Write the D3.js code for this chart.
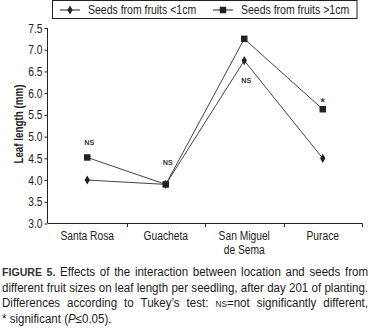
<!DOCTYPE html>
<html><head><meta charset="utf-8">
<script src="https://cdn.jsdelivr.net/npm/d3@7"></script>
<style>
html,body{margin:0;padding:0;background:#fff;}
body{width:371px;height:329px;overflow:hidden;position:relative;font-family:"Liberation Sans",Arial,sans-serif;}
#cap{position:absolute;left:2px;top:265px;font-size:12.5px;line-height:15.5px;color:#1a1a1a;transform-origin:0 0;}
#cap div{text-align:justify;text-align-last:justify;white-space:nowrap;}
#cap div.last{text-align-last:left;}
.sc{font-variant:small-caps;text-transform:lowercase;}
</style></head><body>
<svg id="chart" width="371" height="262" style="position:absolute;left:0;top:0"></svg>
<div id="cap"></div>
<script>
const categories = ["Santa Rosa", "Guacheta", "San Miguel\nde Sema", "Purace"];
const smallFruit = [4.0, 3.9, 6.75, 4.5];
const largeFruit = [4.52, 3.9, 7.25, 5.63];
const seriesNames = ["Seeds from fruits <1cm", "Seeds from fruits >1cm"];
const yTicks = [3.0, 3.5, 4.0, 4.5, 5.0, 5.5, 6.0, 6.5, 7.0, 7.5];
const annotLabels = ["NS", "NS", "NS", "*"];
const annotValues = [4.88, 4.42, 6.3, 5.86];

const svg = d3.select("#chart");
const font = '"Liberation Sans",Arial,sans-serif';
const ink = "#222";
const SX = 0.82; // horizontal condensing to mimic a narrow face

const x = d3.scaleBand().domain(categories).range([48, 362]);
const y = d3.scaleLinear().domain([3, 7.5]).range([223.5, 28]);
const cx = c => x(c) + x.bandwidth() / 2;

function narrowText(parent, px, py, str, opts) {
  const g = parent.append("g").attr("transform", `translate(${px},${py})`);
  const t = g.append("text").attr("transform", `scale(${opts.sx || SX},1)`)
    .attr("text-anchor", opts.anchor || "start")
    .attr("font-family", font).attr("font-size", opts.size || 12)
    .attr("font-weight", opts.weight || "normal")
    .attr("fill", opts.fill || ink);
  if (opts.dy) t.attr("dy", opts.dy);
  t.text(str);
  return g;
}

// x axis
const xAxis = svg.append("g").attr("transform", "translate(0,223.5)")
  .call(d3.axisBottom(x).tickSize(0).tickFormat(""));
xAxis.select(".domain").attr("stroke", ink).attr("d", "M48,0H362.5");
const bounds = categories.map(c => x(c) + x.bandwidth());
svg.append("g").selectAll("line").data(bounds).join("line")
  .attr("x1", d => Math.round(d) + 0.5).attr("x2", d => Math.round(d) + 0.5).attr("y1", 223.5).attr("y2", 227)
  .attr("stroke", ink);
categories.forEach(c => {
  c.split("\n").forEach((p, i) => {
    narrowText(svg, cx(c), 240 + i * 13.5, p, { anchor: "middle", size: 12.5 });
  });
});

// y axis
const yAxis = svg.append("g").attr("transform", "translate(47.5,0)")
  .call(d3.axisLeft(y).tickValues(yTicks).tickFormat(d3.format(".1f")).tickSize(3).tickPadding(3));
yAxis.select(".domain").attr("stroke", ink).attr("d", "M0,223.5V28");
yAxis.selectAll(".tick line").attr("stroke", ink);
yAxis.selectAll(".tick text").attr("font-family", font).attr("font-size", 12.5).attr("fill", ink)
  .attr("transform", `scale(${SX},1)`);

narrowText(svg.append("g").attr("transform", "translate(23,124) rotate(-90)"), 0, 0, "Leaf length (mm)",
  { anchor: "middle", size: 12, weight: "bold" });

// lines
const line = d3.line().x((d, i) => cx(categories[i])).y(d => y(d));
const lineColor = "#444";
svg.append("path").datum(smallFruit).attr("d", line).attr("fill", "none").attr("stroke", lineColor).attr("stroke-width", 1);
svg.append("path").datum(largeFruit).attr("d", line).attr("fill", "none").attr("stroke", lineColor).attr("stroke-width", 1);

const diamond = d3.symbol().type(d3.symbolDiamond).size(24);
const square = d3.symbol().type(d3.symbolSquare).size(42);
svg.append("g").selectAll("path").data(largeFruit).join("path")
  .attr("d", square)
  .attr("transform", (d, i) => `translate(${cx(categories[i])},${y(d)})`)
  .attr("fill", "#222");
svg.append("g").selectAll("path").data(smallFruit).join("path")
  .attr("d", diamond)
  .attr("transform", (d, i) => `translate(${cx(categories[i])},${y(d)})`)
  .attr("fill", "#222");

// annotations
annotLabels.forEach((a, i) => {
  const star = a === "*";
  narrowText(svg, cx(categories[i]) + (star ? 0 : 2), y(annotValues[i]), a, {
    anchor: "middle", size: star ? 11 : 8, weight: "bold", fill: "#334",
    dy: star ? "0.57em" : "0.35em", sx: star ? 1 : 0.9
  });
});

// legend
const lg = svg.append("g");
lg.append("rect").attr("x", 52.5).attr("y", 0.5).attr("width", 304.5).attr("height", 18)
  .attr("fill", "none").attr("stroke", ink);
const legItems = [{ name: seriesNames[0], x0: 60, sym: diamond }, { name: seriesNames[1], x0: 213, sym: square }];
legItems.forEach(it => {
  lg.append("line").attr("x1", it.x0).attr("x2", it.x0 + 20).attr("y1", 10).attr("y2", 10).attr("stroke", ink);
  lg.append("path").attr("d", it.sym).attr("transform", `translate(${it.x0 + 10},10)`).attr("fill", "#222");
  narrowText(lg, it.x0 + 28, 14, it.name, { size: 12.5, sx: 0.84 });
});

// caption
const cap = d3.select("#cap");
cap.append("div").html('<b style="font-size:11.5px;color:#333">FIGURE 5.</b> Effects of the interaction between location and seeds from');
cap.append("div").html('<span id="m">different fruit sizes on leaf length per seedling, after day 201 of planting.</span>');
cap.append("div").html('Differences according to Tukey\u2019s test: <span class="sc">NS</span>=not significantly different,');
cap.append("div").attr("class", "last").html('* significant (<i>P</i>\u22640.05).');
// condense caption so the tightest line fills the width
const natural = document.getElementById("m").getBoundingClientRect().width;
const s = Math.min(1, 365 / natural);
cap.style("width", (366 / s) + "px").style("transform", `scaleX(${s})`);
</script>
</body></html>
